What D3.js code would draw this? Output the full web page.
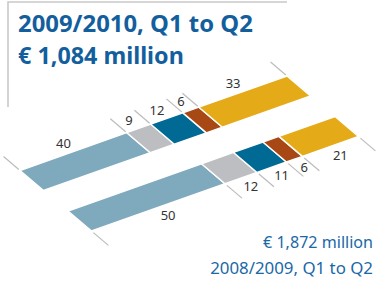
<!DOCTYPE html>
<html>
<head>
<meta charset="utf-8">
<script src="https://cdn.jsdelivr.net/npm/d3@7"></script>
<style>
  body { margin: 0; background: #fff; }
  svg { display: block; }
</style>
</head>
<body>
<svg width="377" height="281"></svg>
<script>
// shares in percent, left to right
var current = [40, 9, 12, 6, 33];    // 2009/2010
var previous = [50, 12, 11, 6, 21];  // 2008/2009
var colors = ["#7fa9bd", "#bdbec1", "#006a94", "#a84915", "#e5aa17"];

var titleLines = ["2009/2010, Q1 to Q2", "\u20ac 1,084 million"];
var footLines = ["\u20ac 1,872 million", "2008/2009, Q1 to Q2"];

var svg = d3.select("svg");

// frame
svg.append("path")
    .attr("d", "M8,107V2H287")
    .attr("fill", "none")
    .attr("stroke", "#c9c9c9")
    .attr("stroke-width", 1.6);

// fit text to a given width
function fit(sel, w) {
  var len = sel.node().getComputedTextLength();
  var fs = parseFloat(sel.attr("font-size"));
  sel.attr("font-size", fs * w / len);
}

var title = svg.append("g")
    .attr("fill", "#135f9d")
    .attr("font-family", "'Noto Sans', sans-serif")
    .attr("font-weight", "bold");
title.append("text").attr("x", 18).attr("y", 31.5).attr("font-size", 21)
    .text(titleLines[0]).call(fit, 235);
title.append("text").attr("x", 18).attr("y", 64).attr("font-size", 21)
    .text(titleLines[1]).call(fit, 166);

var foot = svg.append("g")
    .attr("fill", "#1a68a6")
    .attr("font-family", "'Noto Sans', sans-serif")
    .attr("text-anchor", "end");
foot.append("text").attr("x", 373).attr("y", 248).attr("font-size", 16)
    .text(footLines[0]).call(fit, 110);
foot.append("text").attr("x", 373).attr("y", 274).attr("font-size", 16)
    .text(footLines[1]).call(fit, 163);

// bar geometry: along the bar (share axis) and across it (thickness)
var across = {dx: 23.5, dy: 20};

function drawBar(values, ox, oy, side) {
  var x = d3.scaleLinear().domain([0, 100]).range([ox, ox + 267]);
  var y = d3.scaleLinear().domain([0, 100]).range([oy, oy - 94.5]);
  function pt(v, t) { return [x(v) + t * across.dx, y(v) + t * across.dy]; }

  var stack = [], acc = 0;
  values.forEach(function(v, i) {
    stack.push({v: v, a: acc, b: acc + v, i: i});
    acc += v;
  });
  var bounds = [0].concat(stack.map(function(d) { return d.b; }));

  var g = svg.append("g");

  g.selectAll("path.seg")
    .data(stack)
    .enter().append("path")
      .attr("class", "seg")
      .attr("d", function(d) {
        return d3.line()([pt(d.a, 0), pt(d.b, 0), pt(d.b, 1), pt(d.a, 1)]) + "Z";
      })
      .attr("fill", function(d) { return colors[d.i]; })
      .attr("stroke", "#fff")
      .attr("stroke-width", 1.4)
      .attr("stroke-linejoin", "bevel");

  var t0 = side < 0 ? -0.05 : 1.08, t1 = side < 0 ? -0.7 : 1.72;
  g.selectAll("line.tick")
    .data(bounds)
    .enter().append("line")
      .attr("class", "tick")
      .attr("x1", function(d) { return pt(d, t0)[0]; })
      .attr("y1", function(d) { return pt(d, t0)[1]; })
      .attr("x2", function(d) { return pt(d, t1)[0]; })
      .attr("y2", function(d) { return pt(d, t1)[1]; })
      .attr("stroke", "#bcbcbc")
      .attr("stroke-width", 1.2);

  var tl = side < 0 ? -0.42 : 1.42;
  g.selectAll("text.lbl")
    .data(stack)
    .enter().append("text")
      .attr("class", "lbl")
      .attr("x", function(d) { return pt((d.a + d.b) / 2, tl)[0]; })
      .attr("y", function(d) { return pt((d.a + d.b) / 2, tl)[1]; })
      .attr("dy", "0.36em")
      .attr("text-anchor", "middle")
      .attr("font-family", "'Noto Sans', sans-serif")
      .attr("font-size", 13)
      .attr("fill", "#333")
      .text(function(d) { return d.v; });
}

drawBar(current, 20, 170.5, -1);
drawBar(previous, 68, 211, 1);
</script>
</body>
</html>
